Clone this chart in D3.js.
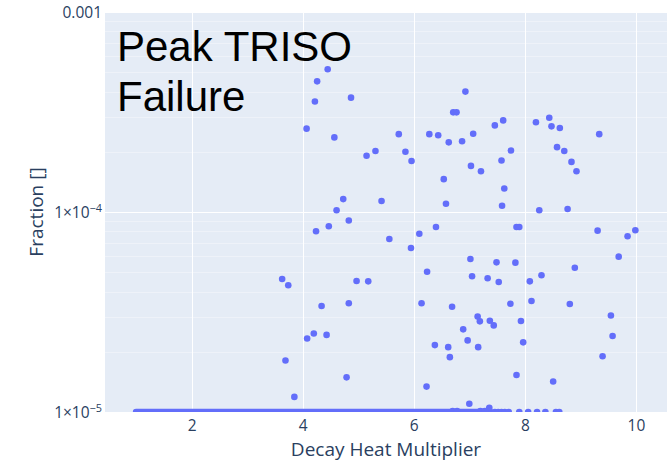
<!DOCTYPE html>
<html>
<head>
<meta charset="utf-8">
<script src="https://cdn.jsdelivr.net/npm/d3@7"></script>
<style>
  body { margin: 0; background: #fff; }
  svg { display: block; }
</style>
</head>
<body>
<svg id="chart" width="672" height="462"></svg>
<script>
// Peak TRISO failure fraction per sampled decay heat multiplier
const decayHeat = [
  4.45, 4.26, 4.22, 4.87, 4.07, 4.57, 5.73, 6.28, 6.44, 6.63,
  6.71, 6.77, 5.15, 5.31, 5.85, 5.96, 6.54, 4.73, 5.42, 6.58,
  4.61, 4.83, 6.93, 6.87, 7.07, 7.46, 7.61, 7.75, 7.58, 7.03,
  7.21, 7.63, 7.59, 8.20, 8.44, 8.48, 8.63, 8.58, 8.71, 8.84,
  8.93, 9.34, 8.26, 8.77, 4.24, 4.47, 5.56, 6.10, 6.40, 5.95,
  6.24, 3.63, 3.74, 4.97, 5.18, 4.34, 4.83, 6.14, 6.69, 4.20,
  4.08, 4.43, 6.38, 6.62, 6.65, 3.69, 4.79, 6.23, 7.85, 7.90,
  9.31, 9.85, 9.99, 9.69, 7.02, 7.49, 7.83, 8.90, 7.05, 7.33,
  7.53, 8.09, 8.30, 7.74, 8.12, 8.81, 7.15, 7.19, 7.37, 7.44,
  7.93, 6.89, 9.55, 9.58, 6.97, 7.16, 7.97, 9.40, 7.85, 8.51,
  3.85, 7.00, 7.36,
  6.70, 6.78, 7.20, 7.28,
  7.46, 7.52, 7.58, 7.64, 7.71, 7.90, 8.06, 8.22, 8.37, 8.56, 8.62
];
const failFrac = [
  5.17e-4, 4.50e-4, 3.57e-4, 3.73e-4, 2.61e-4, 2.36e-4, 2.45e-4, 2.45e-4, 2.42e-4, 2.23e-4,
  3.15e-4, 3.15e-4, 1.91e-4, 2.02e-4, 2.00e-4, 1.80e-4, 1.46e-4, 1.16e-4, 1.135e-4, 1.10e-4,
  1.02e-4, 9.07e-5, 4.00e-4, 2.26e-4, 2.46e-4, 2.71e-4, 2.87e-4, 2.03e-4, 1.81e-4, 1.70e-4,
  1.60e-4, 1.31e-4, 1.075e-4, 2.81e-4, 2.96e-4, 2.68e-4, 2.63e-4, 2.11e-4, 2.02e-4, 1.78e-4,
  1.60e-4, 2.45e-4, 1.02e-4, 1.035e-4, 8.01e-5, 8.48e-5, 7.33e-5, 7.79e-5, 8.41e-5, 6.61e-5,
  5.03e-5, 4.62e-5, 4.30e-5, 4.52e-5, 4.50e-5, 3.39e-5, 3.50e-5, 3.50e-5, 3.36e-5, 2.47e-5,
  2.33e-5, 2.43e-5, 2.16e-5, 2.11e-5, 1.88e-5, 1.81e-5, 1.49e-5, 1.34e-5, 8.41e-5, 8.41e-5,
  8.07e-5, 7.56e-5, 8.10e-5, 5.98e-5, 5.82e-5, 5.60e-5, 5.58e-5, 5.26e-5, 4.77e-5, 4.66e-5,
  4.47e-5, 4.50e-5, 4.83e-5, 3.48e-5, 3.59e-5, 3.47e-5, 3.00e-5, 2.84e-5, 2.86e-5, 2.71e-5,
  2.85e-5, 2.59e-5, 3.04e-5, 2.40e-5, 2.28e-5, 2.11e-5, 2.23e-5, 1.90e-5, 1.53e-5, 1.42e-5,
  1.19e-5, 1.10e-5, 1.05e-5,
  1.012e-5, 1.012e-5, 1.012e-5, 1.012e-5,
  1e-5, 1e-5, 1e-5, 1e-5, 1e-5, 1e-5, 1e-5, 1e-5, 1e-5, 1e-5, 1e-5
];
// Densely packed samples sitting on the 1e-5 floor merge into one band
const floorRunStart = [1.0];
const floorRunEnd = [7.38];
const floorRunFrac = [1e-5];

const xTicks = [2, 4, 6, 8, 10];
const xTickLabels = ["2", "4", "6", "8", "10"];
const yTicks = [1e-5, 1e-4, 1e-3];
const yTickLabels = ["1×10^−5", "1×10^−4", "0.001"];
const yMinorMultipliers = [2, 3, 4, 5, 6, 7, 8, 9];
const yMinorDecades = [1e-5, 1e-4];

const titleLines = ["Peak TRISO", "Failure"];
const xTitle = "Decay Heat Multiplier";
const yTitle = "Fraction []";

const W = 672, H = 462;
const plot = { left: 105, right: 667, top: 12, bottom: 412 };
const markerColor = "#636efa";
const axisFont = "'Open Sans', 'Liberation Sans', Arial, sans-serif";
const textColor = "#2a3f5f";

const svg = d3.select("#chart");

const x = d3.scaleLinear().domain([0.44, 10.56]).range([plot.left, plot.right]);
const y = d3.scaleLog().domain([1e-5, 1e-3]).range([plot.bottom, plot.top]);

svg.append("defs").append("clipPath").attr("id", "plotClip")
  .append("rect")
  .attr("x", plot.left).attr("y", plot.top)
  .attr("width", plot.right - plot.left).attr("height", plot.bottom - plot.top);

// plot background
svg.append("rect")
  .attr("x", plot.left).attr("y", plot.top)
  .attr("width", plot.right - plot.left).attr("height", plot.bottom - plot.top)
  .attr("fill", "#e5ecf6");

// minor log gridlines
const minorVals = [];
yMinorDecades.forEach(d => yMinorMultipliers.forEach(m => minorVals.push(d * m)));
svg.append("g").selectAll("line").data(minorVals).join("line")
  .attr("x1", plot.left).attr("x2", plot.right)
  .attr("y1", d => Math.round(y(d)) + 0.5).attr("y2", d => Math.round(y(d)) + 0.5)
  .attr("stroke", "#eef2f9").attr("stroke-width", 1);

// major gridlines
svg.append("g").selectAll("line").data(yTicks).join("line")
  .attr("x1", plot.left).attr("x2", plot.right)
  .attr("y1", d => Math.round(y(d)) + 0.5).attr("y2", d => Math.round(y(d)) + 0.5)
  .attr("stroke", "#ffffff").attr("stroke-width", 1);
svg.append("g").selectAll("line").data(xTicks).join("line")
  .attr("y1", plot.top).attr("y2", plot.bottom)
  .attr("x1", d => Math.round(x(d)) + 0.5).attr("x2", d => Math.round(x(d)) + 0.5)
  .attr("stroke", "#ffffff").attr("stroke-width", 1);

// markers
const marks = svg.append("g").attr("clip-path", "url(#plotClip)");
marks.selectAll("line.floor").data(floorRunStart).join("line")
  .attr("class", "floor")
  .attr("x1", (d, i) => x(d)).attr("x2", (d, i) => x(floorRunEnd[i]))
  .attr("y1", (d, i) => y(floorRunFrac[i])).attr("y2", (d, i) => y(floorRunFrac[i]))
  .attr("stroke", markerColor).attr("stroke-width", 6.6).attr("stroke-linecap", "round");
marks.selectAll("circle").data(decayHeat).join("circle")
  .attr("cx", d => x(d))
  .attr("cy", (d, i) => y(failFrac[i]))
  .attr("r", 3.3)
  .attr("fill", markerColor);

// x axis
const xAxis = svg.append("g")
  .attr("transform", `translate(0,${plot.bottom})`)
  .call(d3.axisBottom(x).tickValues(xTicks).tickSize(0)
    .tickFormat((d, i) => xTickLabels[i]));
xAxis.select(".domain").remove();
xAxis.selectAll("text")
  .attr("y", 19).attr("dy", 0)
  .attr("font-family", axisFont).attr("font-size", 15.5).attr("fill", textColor);

// y axis with superscript exponents
const yAxis = svg.append("g")
  .attr("transform", `translate(${plot.left},0)`)
  .call(d3.axisLeft(y).tickValues(yTicks).tickSize(0).tickFormat(() => ""));
yAxis.select(".domain").remove();
yAxis.selectAll(".tick text").remove();
yAxis.selectAll(".tick").each(function (d) {
  const label = yTickLabels[yTicks.indexOf(d)];
  const parts = label.split("^");
  const t = d3.select(this).append("text")
    .attr("x", -3).attr("y", 5.5)
    .attr("text-anchor", "end")
    .attr("font-family", axisFont).attr("font-size", 15.5).attr("fill", textColor);
  t.append("tspan").text(parts[0]);
  if (parts[1]) {
    t.append("tspan").attr("dy", "-0.6em").attr("font-size", "70%").text(parts[1]);
  }
});

// axis titles
svg.append("text")
  .attr("x", (plot.left + plot.right) / 2).attr("y", 456)
  .attr("text-anchor", "middle")
  .attr("font-family", axisFont).attr("font-size", 19).attr("fill", textColor)
  .text(xTitle);
svg.append("text")
  .attr("transform", `translate(43,${(plot.top + plot.bottom) / 2}) rotate(-90)`)
  .attr("text-anchor", "middle")
  .attr("font-family", axisFont).attr("font-size", 19).attr("fill", textColor)
  .text(yTitle);

// in-plot title
svg.append("g").selectAll("text").data(titleLines).join("text")
  .attr("x", 117).attr("y", (d, i) => 61 + i * 50)
  .attr("font-family", "'Liberation Sans', Arial, sans-serif")
  .attr("font-size", 42).attr("fill", "#000")
  .text(d => d);
</script>
</body>
</html>
